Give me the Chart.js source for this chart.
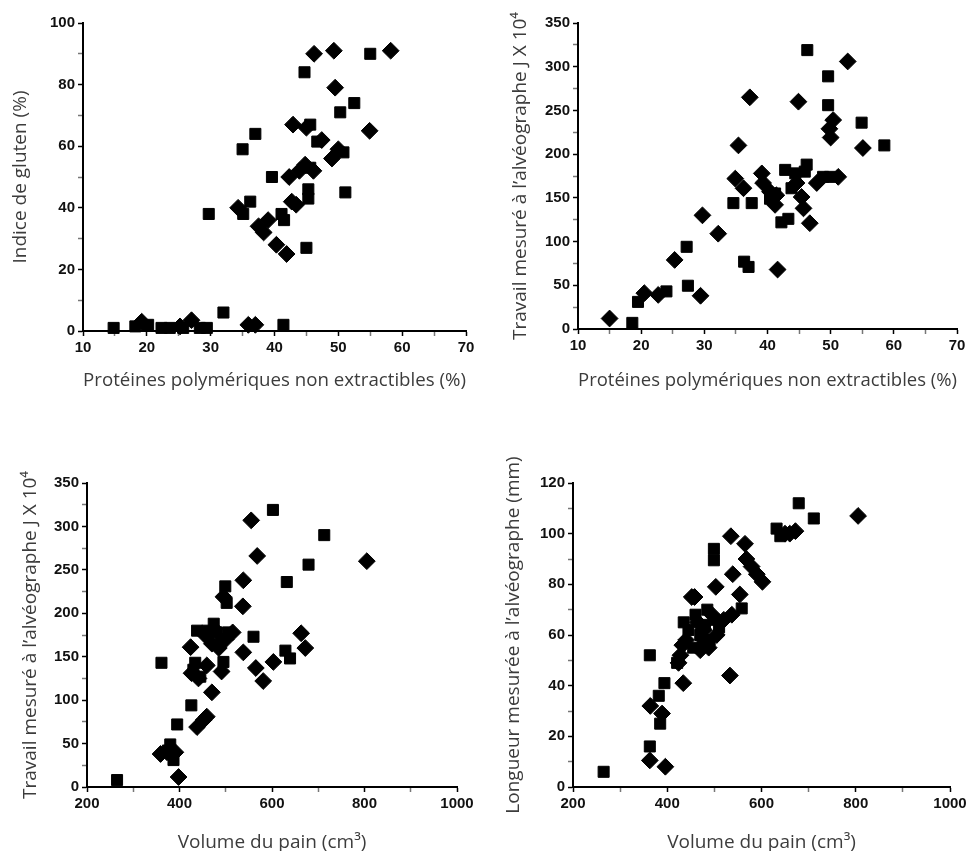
<!DOCTYPE html>
<html>
<head>
<meta charset="utf-8">
<script src="https://cdn.jsdelivr.net/npm/chart.js@4.4.0/dist/chart.umd.min.js"></script>
<style>
  body { margin: 0; background: #fff; overflow: hidden; }
  #wrap { position: relative; width: 974px; height: 851px; }
  canvas { position: absolute; }
</style>
</head>
<body>
<div id="wrap">
  <canvas id="c1" width="487" height="410" style="left:0;top:0"></canvas>
  <canvas id="c2" width="487" height="410" style="left:487px;top:0"></canvas>
  <canvas id="c3" width="487" height="441" style="left:0;top:420px"></canvas>
  <canvas id="c4" width="487" height="441" style="left:487px;top:420px"></canvas>
</div>
<script>
// values, [x, y]
const glutenSquares = [[14.8,1],[18.2,1.5],[20.2,2],[22.3,1],[23.6,1],[25.7,1],[28.3,1],[29.4,1],[32,6],[29.7,38],
  [35,59],[35.1,38],[36.2,42],[37,64],[39.6,50],[41.1,38],[41.5,36],[41.4,2],[44.7,84],[45,27],[45.3,46],[45.3,43],
  [45.6,67],[45.6,53],[46.7,61.5],[50.3,71],[52.5,74],[50.8,58],[51.1,45],[55,90]];
const glutenDiamonds = [[19.2,3],[25.2,1.5],[27,3.5],[35.9,2],[37,2],[34.3,40],[37.5,34],[39,36],[38.3,32],[40.3,28],
  [41.9,25],[42.7,42],[43.4,41],[42.3,50],[43.9,52],[44.8,54],[46.1,52],[42.9,67],[45,66],[47.4,62],[49,56],[50,59],
  [49.5,79],[46.2,90],[49.3,91],[54.9,65],[58.2,91]];

const workNepSquares = [[18.6,7],[19.5,31],[24,43],[27.2,94],[27.4,49.5],[34.6,144],[36.3,77],[37,71],[37.5,144],
  [40.4,149],[40.6,152],[41.2,155],[42.2,122],[43.3,126],[42.8,182],[44.4,178],[43.8,161],[45.9,180],[46.2,188],
  [46.3,319],[48.8,174],[49.9,174],[49.6,289],[49.6,256],[54.9,236],[58.5,210]];
const workNepDiamonds = [[15,12],[20.5,41],[22.7,39],[25.3,79],[29.4,38],[29.7,130],[32.2,109],[35.4,210],[34.9,172],
  [36.2,161],[37.2,265],[39.1,178],[39.3,167],[40.4,157],[41.2,142],[41.4,153],[41.6,68],[44.6,167],[44.9,260],
  [45.4,151],[45.7,138],[46.7,121],[47.8,167],[50,219],[49.8,229],[50.4,239],[51.2,174],[52.7,306],[55.1,207]];

const workVolSquares = [[265,8],[361,143],[375,42],[380,49],[387,31],[395,72],[425.6,94],[434,143],[430,135],[438,180],
  [445,127],[460,180],[474,188],[480,178],[490,170],[495,144],[499,231],[502,212],[505,178],[560,173],[602,319],
  [632,236],[629,157],[639,148],[679,256],[713,290]];
const workVolDiamonds = [[359,38],[373,40],[391,40],[398,11.5],[424,161],[426,131],[441,125],[438,69],[452,77],[459,81],
  [459,140],[470,109],[455,175],[470,165],[485,160],[491,133],[495,219],[500,170],[515,178],[475,182],[537,208],
  [538,238],[538,155],[555,307],[568,266],[565,137],[581,122],[603,144],[663,177],[672,160],[805,260]];

const lengthSquares = [[265,6],[363,52],[363,16],[382,36],[385,25],[394,41],[421,49],[435,65],[445,62],[460,68],[470,60],
  [480,64],[490,58],[500,66],[475,56],[455,55],[510,63],[485,70],[499,94],[499,89.5],[558,70.5],[632,102],[640,99],
  [679,112],[711,106]];
const lengthDiamonds = [[363,10.5],[396,8],[364,32],[389,29],[434,41],[424,49],[428,52],[432,56],[440,58],[452,75],
  [458,75],[465,65],[470,54],[478,62],[488,55],[495,68],[503,79],[505,60],[520,66],[533,44],[537,68],[539,84],
  [535,99],[554,76],[565,96],[568,90],[579,87],[590,84],[602,81],[650,100],[660,100],[672,101],[805,107]];

const nepTitle = 'Protéines polymériques non extractibles (%)';
const volTitle = 'Volume du pain (cm³)';
const workTitle = 'Travail mesuré à l\u2019alvéographe J X 10\u2074';

Chart.defaults.font.family = 'Liberation Sans';

const tickFont = { family: 'Liberation Sans', size: 15, weight: 'bold' };
const titleFont = { family: 'Open Sans', size: 19 };

function toPts(arr) {
  return arr.map(p => ({ x: p[0], y: p[1] }));
}

function makeChart(id, squares, diamonds, o) {
  const minorColor = (every) => (c) => (c.tick && c.tick.value % every === 0) ? '#000' : '#777';
  return new Chart(document.getElementById(id), {
    type: 'scatter',
    data: {
      datasets: [
        { data: toPts(squares), pointStyle: 'rect', pointRadius: 7.8, backgroundColor: '#000',
          borderColor: '#000', borderWidth: 1, clip: false },
        { data: toPts(diamonds), pointStyle: 'rectRot', pointRadius: 8.4, backgroundColor: '#000',
          borderColor: '#000', borderWidth: 1, clip: false }
      ]
    },
    options: {
      responsive: false,
      animation: false,
      events: [],
      layout: { padding: { top: o.top, right: o.right, left: 0, bottom: 0 } },
      plugins: { legend: { display: false }, tooltip: { enabled: false } },
      scales: {
        x: {
          type: 'linear', min: o.xMin, max: o.xMax,
          ticks: { stepSize: o.xStep, autoSkip: false, maxRotation: 0, padding: 3, color: '#111', font: tickFont,
            callback: v => v % o.xLabel === 0 ? v : '' },
          grid: { drawOnChartArea: false, tickLength: 5, tickWidth: 1.5, tickColor: minorColor(o.xLabel) },
          border: { color: '#000', width: 2 },
          title: { display: true, text: o.xTitle, color: '#3c3c3c', font: titleFont, padding: { top: 0, bottom: o.xTitlePad } },
          afterFit: s => { s.height = o.xh; }
        },
        y: {
          type: 'linear', min: o.yMin, max: o.yMax,
          ticks: { stepSize: o.yStep, autoSkip: false, padding: 3, color: '#111', font: tickFont,
            callback: v => v % o.yLabel === 0 ? v : '' },
          grid: { drawOnChartArea: false, tickLength: 5, tickWidth: 1.5, tickColor: minorColor(o.yLabel) },
          border: { color: '#000', width: 2 },
          title: { display: true, text: o.yTitle, color: '#3c3c3c', font: titleFont, padding: { top: o.yTitlePad, bottom: 0 } },
          afterFit: s => { s.width = o.yw; }
        }
      }
    }
  });
}

makeChart('c1', glutenSquares, glutenDiamonds, {
  top: 23, right: 21, yw: 83, xh: 79,
  xMin: 10, xMax: 70, xStep: 5, xLabel: 10, xTitle: nepTitle, xTitlePad: 18,
  yMin: 0, yMax: 100, yStep: 10, yLabel: 20, yTitle: 'Indice de gluten (%)', yTitlePad: 9
});
makeChart('c2', workNepSquares, workNepDiamonds, {
  top: 23, right: 17, yw: 91, xh: 81,
  xMin: 10, xMax: 70, xStep: 5, xLabel: 10, xTitle: nepTitle, xTitlePad: 18,
  yMin: 0, yMax: 350, yStep: 25, yLabel: 50, yTitle: workTitle, yTitlePad: 22
});
makeChart('c3', workVolSquares, workVolDiamonds, {
  top: 63, right: 30, yw: 87, xh: 74,
  xMin: 200, xMax: 1000, xStep: 100, xLabel: 200, xTitle: volTitle, xTitlePad: 7,
  yMin: 0, yMax: 350, yStep: 25, yLabel: 50, yTitle: workTitle, yTitlePad: 19
});
makeChart('c4', lengthSquares, lengthDiamonds, {
  top: 63, right: 24, yw: 86, xh: 74,
  xMin: 200, xMax: 1000, xStep: 100, xLabel: 200, xTitle: volTitle, xTitlePad: 7,
  yMin: 0, yMax: 120, yStep: 10, yLabel: 20, yTitle: 'Longueur mesurée à l\u2019alvéographe (mm)', yTitlePad: 15
});
</script>
</body>
</html>
